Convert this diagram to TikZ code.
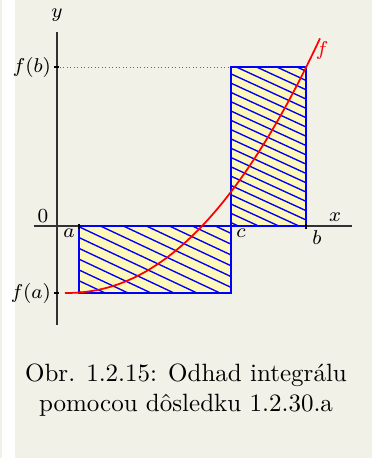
\documentclass[tikz,border=0pt]{standalone}
\usepackage{tikz}
\usetikzlibrary{positioning, calc}
\definecolor{panel}{RGB}{242,241,232}
\definecolor{hatchfill}{RGB}{255,249,185}
\definecolor{axisgray}{RGB}{50,50,50}

\begin{document}
\begin{tikzpicture}[x=4pt, y=4pt,
    hatch/.style={blue, line width=0.55pt},
    boxline/.style={blue, line width=0.95pt},
    tickmark/.style={black, line width=0.9pt},
    lbl/.style={font=\footnotesize, inner sep=1pt}]
    \useasboundingbox (-5.7,-23.2) rectangle (31.7,22.6);
    \fill[panel] (-5.7,-23.2) rectangle (-5.5,22.6);
    \fill[panel] (-4.2,-23.2) rectangle (31.5,22.6);

    % axes
    \draw[axisgray, line width=0.45pt] (-2.3,0) -- (29.5,0);
    \draw[axisgray, line width=0.45pt] (0,-9.9) -- (0,19.4);
    \node[lbl] (ylab) at (0,21.1) {$y$};
    \node[lbl] (xlab) at (27.8,0.9) {$x$};
    \node[lbl] (zero) at (-1.4,1.0) {$0$};

    % rectangles with hatching
    \fill[hatchfill] (2.2,-6.7) rectangle (17.4,0);
    \fill[hatchfill] (17.4,0) rectangle (24.9,15.9);
    \begin{scope}
        \clip (2.2,-6.7) rectangle (17.4,0);
        \foreach \k in {0,...,30}
            \draw[hatch] (0,{\k*1.08-12}) -- ++(40,-18.8);
    \end{scope}
    \begin{scope}
        \clip (17.4,0) rectangle (24.9,15.9);
        \foreach \k in {0,...,40}
            \draw[hatch] (15,{\k*0.93-6}) -- ++(40,-18.4);
    \end{scope}
    \draw[boxline] (2.2,-6.7) rectangle (17.4,0);
    \draw[boxline] (17.4,0) rectangle (24.9,15.9);

    % f(b) level
    \draw[gray!80!black, densely dotted, line width=0.4pt] (0.3,15.9) -- (17.4,15.9);

    % ticks
    \draw[tickmark] (2.2,-0.25) -- (2.2,0.25);
    \draw[tickmark] (24.9,-0.25) -- (24.9,0.25);
    \draw[tickmark] (-0.25,-6.7) -- (0.25,-6.7);
    \draw[tickmark] (-0.25,15.9) -- (0.25,15.9);

    % function
    \draw[red, line width=0.7pt, domain=0.8:26.3, samples=150]
        plot (\x, {-6.7 + 0.0241*pow(max(\x-0.8,0.001),2.15)});
    \node[lbl, red] (flab) at (26.5,17.6) {$f$};

    % labels
    \node[lbl] (alab) at (1.2,-0.7) {$a$};
    \node[lbl] (clab) at (18.4,-0.7) {$c$};
    \node[lbl] (blab) at (26.0,-1.2) {$b$};
    \node[lbl, anchor=east] (fblab) at (-0.3,15.9) {$f(b)$};
    \node[lbl, anchor=east] (falab) at (-0.3,-6.7) {$f(a)$};

    % caption
    \node[align=center] (caption) at (12.9,-16.4)
        {Obr. 1.2.15: Odhad integrálu\\pomocou dôsledku 1.2.30.a};
\end{tikzpicture}
\end{document}
